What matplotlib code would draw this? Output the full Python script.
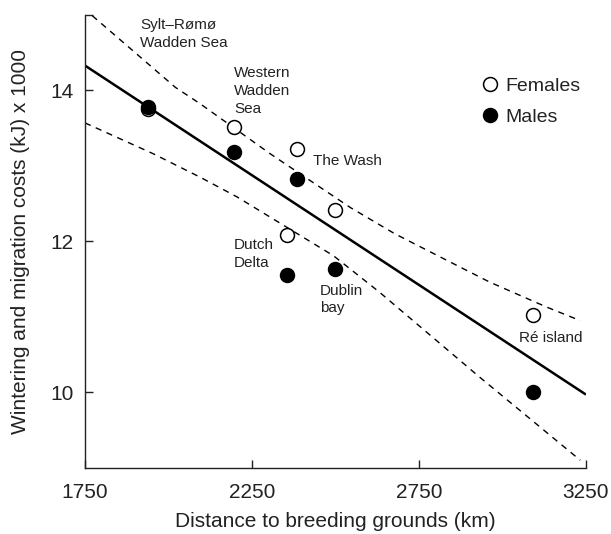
import matplotlib.pyplot as plt

plt.rcParams['font.family'] = ['Liberation Sans', 'DejaVu Sans']

# sites
sites = ['Sylt-Rømø', 'Western Wadden Sea', 'The Wash', 'Dublin bay', 'Dutch Delta', 'Ré island']
distance = [1939, 2195, 2384, 2499, 2355, 3090]
females = [13.75, 13.52, 13.23, 12.41, 12.09, 11.02]
males = [13.78, 13.18, 12.83, 11.64, 11.55, 10.00]

# regression line and confidence band
fit_x = [1750, 3250]
fit_y = [14.33, 9.97]
upper_x = [1772, 2021, 2096, 2305, 2544, 2678, 2833, 2962, 3132, 3233]
upper_y = [14.99, 14.04, 13.82, 13.16, 12.45, 12.10, 11.75, 11.46, 11.13, 10.95]
lower_x = [1750, 1955, 2095, 2205, 2494, 2631, 2932, 3233]
lower_y = [13.57, 13.16, 12.85, 12.59, 11.81, 11.33, 10.20, 9.10]

# site labels
label_text = ['Sylt\u2013Rømø\nWadden Sea', 'Western\nWadden\nSea', 'The Wash',
              'Dutch\nDelta', 'Dublin\nbay', 'Ré island']
label_x = [1916, 2197, 2433, 2197, 2454, 3050]
label_y = [14.75, 13.99, 13.06, 11.83, 11.23, 10.72]

fig = plt.figure(figsize=(6.11, 5.34), dpi=100)
ax = fig.add_axes([0.139, 0.124, 0.820, 0.848])

dk = '#222222'
ax.plot(fit_x, fit_y, color='black', lw=1.8, solid_capstyle='butt')
ax.plot(upper_x, upper_y, color='black', lw=1.0, dashes=(4.5, 4))
ax.plot(lower_x, lower_y, color='black', lw=1.0, dashes=(4.5, 4))

ax.plot(distance, females, 'o', ms=10, mfc='white', mec='black', mew=1.1,
        ls='none', label='Females')
ax.plot(distance, males, 'o', ms=10, mfc='black', mec='black', mew=1.1,
        ls='none', label='Males')

for t, x, y in zip(label_text, label_x, label_y):
    ax.text(x, y, t, fontsize=11, color=dk, ha='left', va='center', linespacing=1.35)

ax.legend(loc='upper left', bbox_to_anchor=(0.77, 0.883), frameon=False, fontsize=14,
          handletextpad=0.3, labelspacing=0.65, handlelength=1.0, borderpad=0,
          labelcolor=dk)

ax.set_xlim(1750, 3250)
ax.set_ylim(9, 15)
ax.set_xticks([1750, 2250, 2750, 3250])
ax.set_yticks([10, 12, 14, 15])
ax.set_yticklabels(['10', '12', '14', ''])
ax.tick_params(direction='in', length=6, width=1, colors=dk, labelsize=15, pad=8)
ax.tick_params(axis='x', pad=11)
for s in ['top', 'right']:
    ax.spines[s].set_visible(False)
for s in ['left', 'bottom']:
    ax.spines[s].set_color(dk)
    ax.spines[s].set_linewidth(1)

ax.set_xlabel('Distance to breeding grounds (km)', fontsize=15, color=dk, labelpad=7)
ax.set_ylabel('Wintering and migration costs (kJ) x 1000', fontsize=15, color=dk, labelpad=15)

fig.savefig('out.png', dpi=100)
